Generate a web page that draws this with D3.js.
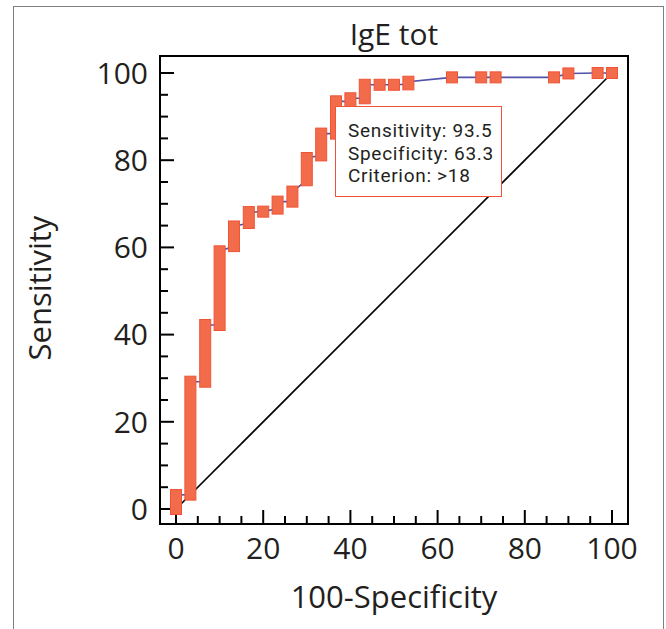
<!DOCTYPE html>
<html>
<head>
<meta charset="utf-8">
<script src="https://cdn.jsdelivr.net/npm/d3@7"></script>
<style>
  body { margin: 0; background: #fff; }
  text { font-family: "Open Sans", "Noto Sans", sans-serif; fill: #231f20; }
</style>
</head>
<body>
<script>
const width = 666;
const height = 629;

// ROC steps: false positive rate (100-Specificity) and sensitivity range at that rate
const fpr      = [0, 3.3, 6.7, 10, 13.3, 16.7, 20, 23.3, 26.7, 30, 33.3, 36.7, 40, 43.3, 46.7, 50, 53.3, 63.3, 70, 73.3, 86.7, 90, 96.7, 100];
const sensLow  = [0, 3.3, 29.2, 42.2, 60.3, 65.6, 68.2, 68.9, 70.5, 75.4, 81.1, 86.1, 93.5, 94.2, 97.3, 97.3, 97.4, 99, 99, 99, 99, 99.9, 100, 100];
const sensHigh = [3.2, 29.2, 42.2, 59.1, 64.8, 68.1, 68.2, 70.5, 72.8, 80.5, 86.1, 93.5, 94.2, 97.3, 97.3, 97.3, 98, 99, 99, 99, 99, 99.9, 100, 100];

const tickValues = [0, 20, 40, 60, 80, 100];
const minorTicks = d3.range(0, 101, 5);

const title = "IgE tot";
const xTitle = "100-Specificity";
const yTitle = "Sensitivity";
const boxLines = ["Sensitivity: 93.5", "Specificity: 63.3", "Criterion: >18"];

const svg = d3.select("body")
.append("svg")
.attr("width", width)
.attr("height", height);

// outer border of the figure
svg.append("rect")
.attr("x", 13.5).attr("y", 6.5)
.attr("width", 650).attr("height", 640)
.attr("fill", "none")
.attr("stroke", "#808080")
.attr("stroke-width", 1);

const frame = {left: 160, top: 56, right: 628, bottom: 524};

const x = d3.scaleLinear().domain([0, 100]).range([176, 612]);
const y = d3.scaleLinear().domain([0, 100]).range([509, 73]);

// ticks, drawn inward from the frame
minorTicks.forEach(v => {
  const len = v % 20 === 0 ? 14 : 8;
  svg.append("line")
  .attr("x1", x(v)).attr("x2", x(v))
  .attr("y1", frame.bottom).attr("y2", frame.bottom - len)
  .attr("stroke", "#000").attr("stroke-width", 2);
  svg.append("line")
  .attr("x1", frame.left).attr("x2", frame.left + len)
  .attr("y1", y(v)).attr("y2", y(v))
  .attr("stroke", "#000").attr("stroke-width", 2);
});

svg.selectAll(".xlab")
.data(tickValues)
.enter()
.append("text")
.attr("x", d => x(d))
.attr("y", 559)
.attr("text-anchor", "middle")
.style("font-size", "30px")
.text(d => d);

svg.selectAll(".ylab")
.data(tickValues)
.enter()
.append("text")
.attr("x", 148)
.attr("y", d => y(d))
.attr("dy", "0.36em")
.attr("text-anchor", "end")
.style("font-size", "30px")
.text(d => d);

// diagonal reference line
svg.append("line")
.attr("x1", x(0)).attr("y1", y(0))
.attr("x2", x(100)).attr("y2", y(100))
.attr("stroke", "#000")
.attr("stroke-width", 1.6);

// ROC line through the steps
const pts = [];
fpr.forEach((f, i) => {
  pts.push([f, sensLow[i]]);
  pts.push([f, sensHigh[i]]);
});
const line = d3.line().x(d => x(d[0])).y(d => y(d[1]));
svg.append("path")
.attr("d", line(pts))
.attr("fill", "none")
.attr("stroke", "#5053aa")
.attr("stroke-width", 1.6);

// markers (runs of points at the same fpr make the tall bars)
const half = 5.5;
svg.selectAll(".mark")
.data(fpr)
.enter()
.append("rect")
.attr("x", d => x(d) - half)
.attr("y", (d, i) => y(sensHigh[i]) - half)
.attr("width", half * 2)
.attr("height", (d, i) => y(sensLow[i]) - y(sensHigh[i]) + half * 2)
.attr("fill", "#f26b4b")
.attr("stroke", "#ef5436")
.attr("stroke-width", 1);

// frame
svg.append("rect")
.attr("x", frame.left).attr("y", frame.top)
.attr("width", frame.right - frame.left)
.attr("height", frame.bottom - frame.top)
.attr("fill", "none")
.attr("stroke", "#000")
.attr("stroke-width", 2);

// criterion box
svg.append("rect")
.attr("x", 335.5).attr("y", 106.5)
.attr("width", 166).attr("height", 90)
.attr("fill", "#fff")
.attr("stroke", "#ef5436")
.attr("stroke-width", 1);

svg.selectAll(".boxtext")
.data(boxLines)
.enter()
.append("text")
.attr("x", 348)
.attr("y", (d, i) => 137 + i * 22.5)
.style("font-family", "Roboto, sans-serif")
.style("font-size", "19px")
.style("letter-spacing", "0.7px")
.text(d => d);

svg.append("text")
.attr("x", (frame.left + frame.right) / 2)
.attr("y", 45)
.attr("text-anchor", "middle")
.style("font-size", "30px")
.text(title);

svg.append("text")
.attr("x", (frame.left + frame.right) / 2)
.attr("y", 608)
.attr("text-anchor", "middle")
.style("font-size", "31px")
.text(xTitle);

svg.append("text")
.attr("transform", "translate(51," + 288 + ") rotate(-90)")
.attr("text-anchor", "middle")
.style("font-size", "31px")
.text(yTitle);
</script>
</body>
</html>
